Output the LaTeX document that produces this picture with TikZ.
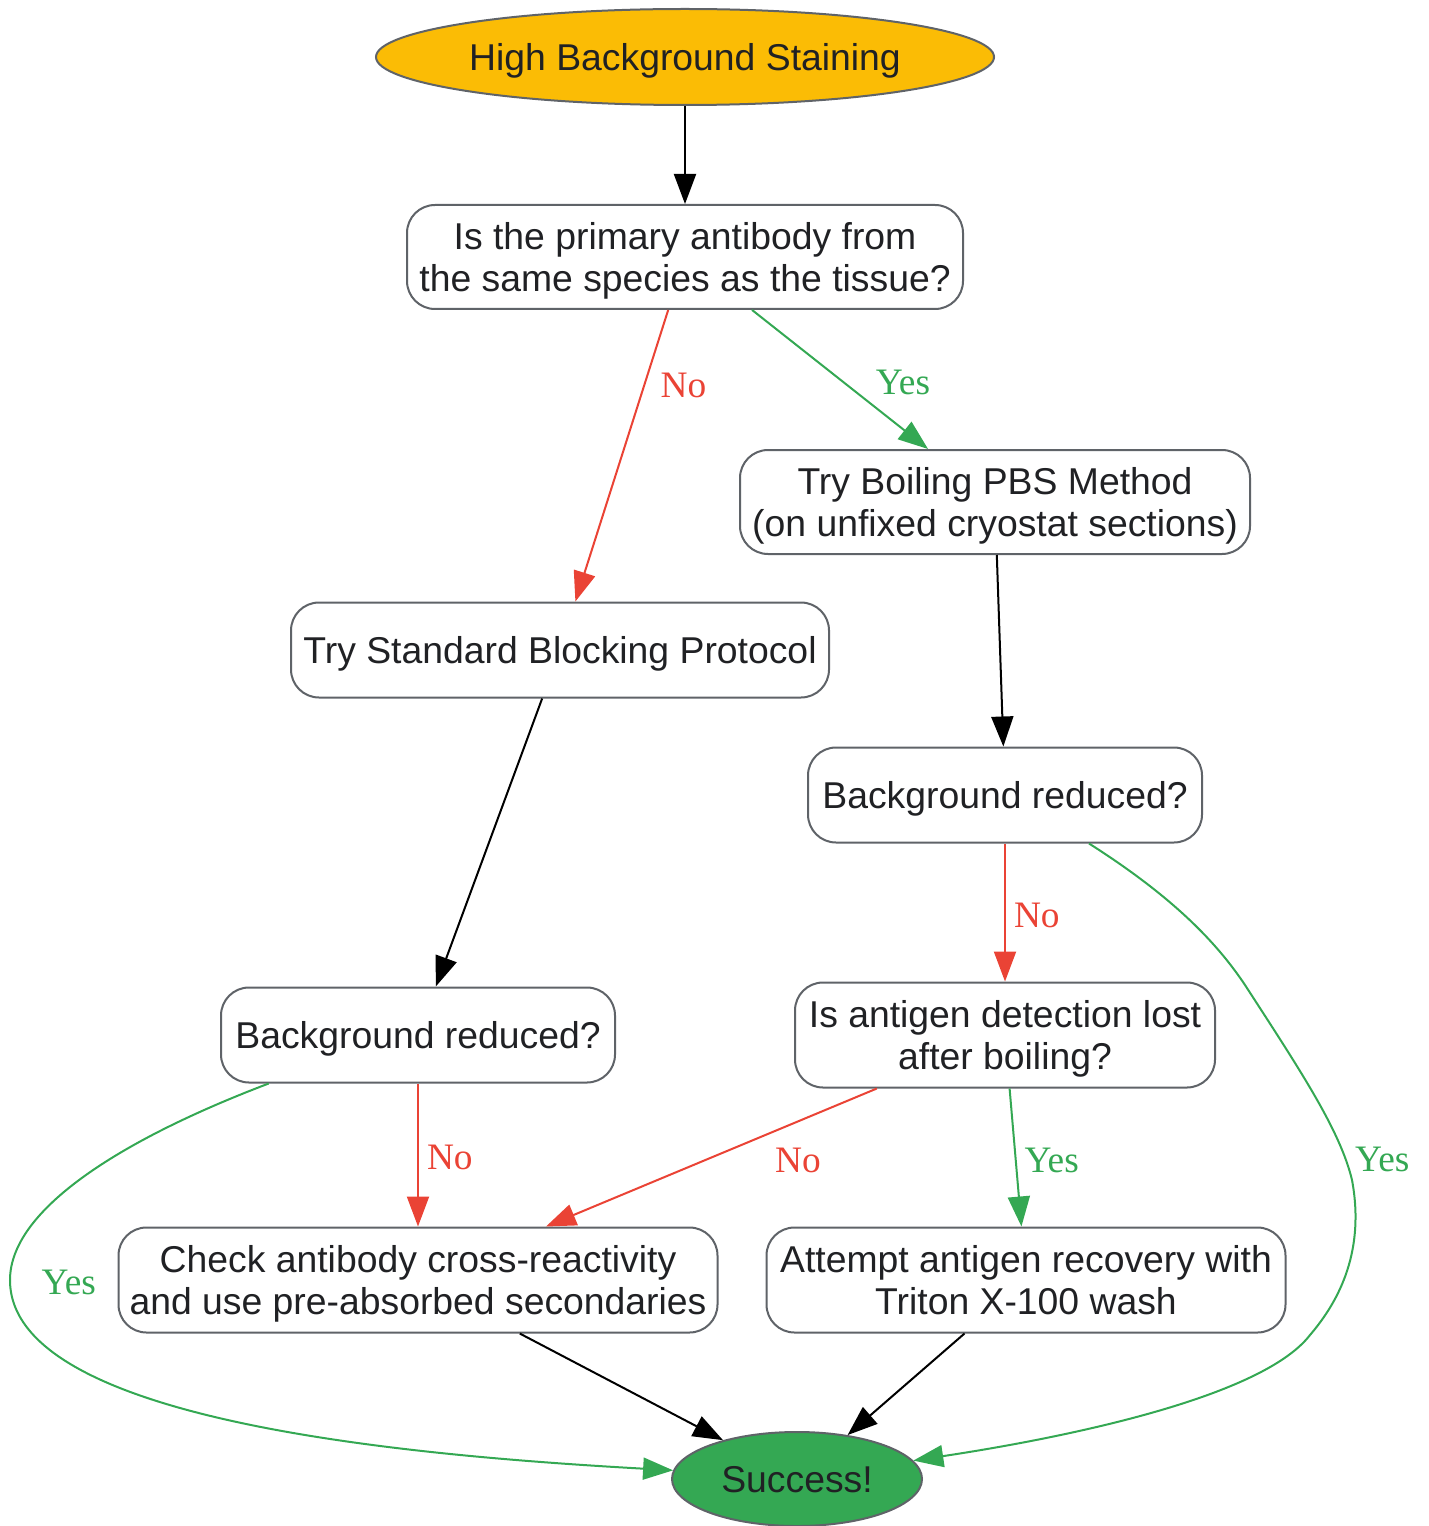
\documentclass[tikz,border=0pt]{standalone}
\usepackage{fontspec}
\setmainfont{Liberation Sans}
\newfontfamily\labelfont{Liberation Serif}
\usetikzlibrary{shapes.geometric, arrows.meta, positioning}
\definecolor{inkgray}{HTML}{202124}
\definecolor{edgegray}{HTML}{5F6368}
\definecolor{alertgold}{HTML}{FBBC05}
\definecolor{passgreen}{HTML}{34A853}
\definecolor{failred}{HTML}{EA4335}

\begin{document}
\begin{tikzpicture}[x=0.75pt, y=-0.75pt,
  stepbox/.style={draw=edgegray, line width=1.5pt, rounded corners=21pt, fill=white, text=inkgray, align=center, inner sep=3pt, text depth=-8pt, font=\fontsize{28}{31.5}\selectfont},
  endpoint/.style={ellipse, draw=edgegray, line width=1.5pt, text=inkgray, inner sep=2pt, text depth=-8pt, font=\fontsize{28}{31.5}\selectfont},
  flow/.style={-{Triangle[length=22.5pt, width=16.5pt]}, line width=1.5pt},
  yesflow/.style={flow, passgreen},
  noflow/.style={flow, failred},
  answer/.style={font=\labelfont\fontsize{28}{30}\selectfont, inner sep=2pt, yshift=-2pt}]
  \useasboundingbox (0,0) rectangle (1428,1526);

  % nodes
  \node[endpoint, fill=alertgold, minimum width=457.5pt, minimum height=72pt] (start) at (685,57) {High Background Staining};
  \node[stepbox, minimum width=417pt, minimum height=78pt] (species) at (685,257) {Is the primary antibody from\\the same species as the tissue?};
  \node[stepbox, minimum width=382.5pt, minimum height=78pt] (boil) at (995,502) {Try Boiling PBS Method\\(on unfixed cryostat sections)};
  \node[stepbox, minimum width=403.5pt, minimum height=71.25pt] (block) at (560,650) {Try Standard Blocking Protocol};
  \node[stepbox, minimum width=295.5pt, minimum height=71.25pt] (reducedB) at (1005,795) {Background reduced?};
  \node[stepbox, minimum width=315pt, minimum height=78.75pt] (lost) at (1005,1035) {Is antigen detection lost\\after boiling?};
  \node[stepbox, minimum width=295.5pt, minimum height=71.25pt] (reducedA) at (418,1035) {Background reduced?};
  \node[stepbox, minimum width=449.25pt, minimum height=78.75pt] (cross) at (418,1280) {Check antibody cross-reactivity\\and use pre-absorbed secondaries};
  \node[stepbox, minimum width=389.25pt, minimum height=78.75pt] (triton) at (1026,1280) {Attempt antigen recovery with\\Triton X-100 wash};
  \node[endpoint, fill=passgreen, minimum width=187.5pt, minimum height=70.5pt] (success) at (797,1479) {Success!};

  % connectors
  \draw[flow] (start) -- (species);
  \draw[noflow] (species) -- node[answer, pos=0.25, right=9pt, text=failred] (noA) {No} (block);
  \draw[yesflow] (species) -- node[answer, pos=0.5, right=24pt, text=passgreen] (yesA) {Yes} (boil);
  \draw[flow] (boil) -- (reducedB);
  \draw[flow] (block) -- (reducedA);
  \draw[noflow] (reducedB) -- node[answer, pos=0.5, right=4pt, text=failred] (noB) {No} (lost);
  \draw[noflow] (lost) -- node[answer, pos=0.5, right=45pt, text=failred] (noC) {No} (cross);
  \draw[yesflow] (lost) -- node[answer, pos=0.5, right=4pt, text=passgreen] (yesC) {Yes} (triton);
  \draw[noflow] (reducedA) -- node[answer, pos=0.5, right=4pt, text=failred] (noD) {No} (cross);
  \draw[flow] (cross) -- (success);
  \draw[flow] (triton) -- (success);
  \draw[yesflow] (reducedA.198) .. controls (120,1140) and (10,1210) .. (10,1280)
    node[answer, pos=1, right=21pt, text=passgreen] (yesD) {Yes}
    .. controls (10,1420) and (400,1455) .. (success.176);
  \draw[yesflow] (reducedB.-30) .. controls (1170,895) and (1215,940) .. (1245,985)
    .. controls (1300,1070) and (1340,1130) .. (1352,1180)
    node[answer, pos=0.85, right=5pt, text=passgreen] (yesB) {Yes}
    .. controls (1365,1250) and (1340,1300) .. (1310,1335)
    .. controls (1260,1400) and (1050,1440) .. (success.9);
\end{tikzpicture}
\end{document}
